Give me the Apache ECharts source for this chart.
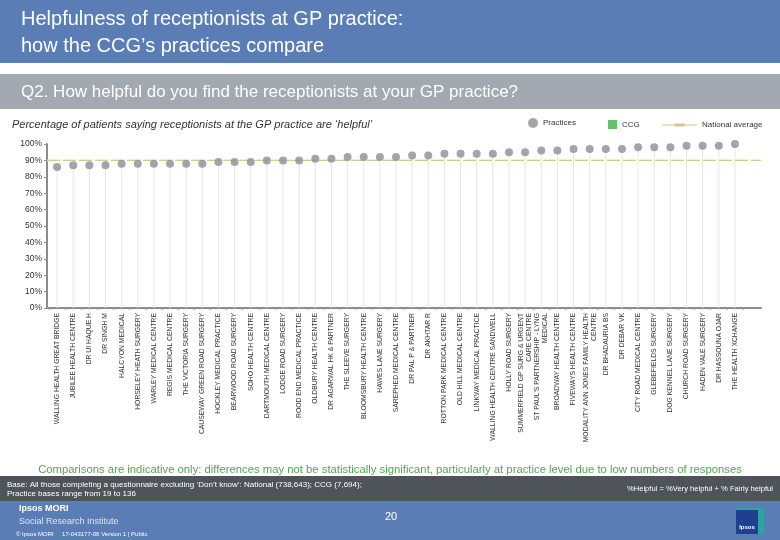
<!DOCTYPE html>
<html>
<head>
<meta charset="utf-8">
<script src="https://cdn.jsdelivr.net/npm/echarts@6/dist/echarts.min.js"></script>
<style>
html,body{margin:0;padding:0;background:#fff;}
#chart{width:780px;height:540px;}
</style>
</head>
<body>
<div id="chart"></div>
<script>
const CATEGORIES = [
  "WALLING HEALTH GREAT BRIDGE","JUBILEE HEALTH CENTRE","DR UI HAQUE H","DR SINGH M","HALCYON MEDICAL",
  "HORSELEY HEATH SURGERY","WARLEY MEDICAL CENTRE","REGIS MEDICAL CENTRE","THE VICTORIA SURGERY","CAUSEWAY GREEN ROAD SURGERY",
  "HOCKLEY MEDICAL PRACTICE","BEARWOOD ROAD SURGERY","SOHO HEALTH CENTRE","DARTMOUTH MEDICAL CENTRE","LODGE ROAD SURGERY",
  "ROOD END MEDICAL PRACTICE","OLDBURY HEALTH CENTRE","DR AGARWAL HK & PARTNER","THE SLEEVE SURGERY","BLOOMSBURY HEALTH CENTRE",
  "HAWES LANE SURGERY","SAREPHED MEDICAL CENTRE","DR PAL P & PARTNER","DR AKHTAR R","ROTTON PARK MEDICAL CENTRE",
  "OLD HILL MEDICAL CENTRE","LINKWAY MEDICAL PRACTICE","WALLING HEALTH CENTRE SANDWELL","HOLLY ROAD SURGERY","SUMMERFIELD GP SURG & URGENT\nCARE CENTRE",
  "ST PAUL'S PARTNERSHIP - LYNG\nMEDICAL","BROADWAY HEALTH CENTRE","FIVEWAYS HEALTH CENTRE","MODALITY ANN JONES FAMILY HEALTH\nCENTRE","DR BHADAURIA BS",
  "DR DEBAR VK","CITY ROAD MEDICAL CENTRE","GLEBEFIELDS SURGERY","DOG KENNEL LANE SURGERY","CHURCH ROAD SURGERY",
  "HADEN VALE SURGERY","DR HASSOUNA OJAR","THE HEALTH XCHANGE"
];
const PRACTICES = [
  86,87,87,87,88,88,88,88,88,88,
  89,89,89,90,90,90,91,91,92,92,
  92,92,93,93,94,94,94,94,95,95,
  96,96,97,97,97,97,98,98,98,99,
  99,99,100
];
const NATIONAL_AVERAGE = 90;
const CCG = [];
const NATIONAL_SPAN = [0, 1];

const FONT = "'Liberation Sans', Arial, sans-serif";
const chart = echarts.init(document.getElementById('chart'), null, {renderer:'canvas'});

const option = {
  animation: false,
  textStyle: {fontFamily: FONT},
  grid: [
    {left: 47, right: 19, top: 144, bottom: 232},
    {left: 49, right: 37, top: 144, bottom: 232}
  ],
  xAxis: [
    {gridIndex:0, type:'value', min:0, max:1,
     axisLine:{show:true, onZero:false, lineStyle:{color:'#8c8c8c', width:2}},
     axisTick:{show:false}, axisLabel:{show:false}, splitLine:{show:false}},
    {gridIndex:1, type:'category', data: CATEGORIES,
     axisLine:{show:false},
     axisTick:{show:true, length:2, lineStyle:{color:'#a0a0a0'}},
     axisLabel:{interval:0, rotate:90, fontSize:6.8, color:'#333', margin:5, fontFamily: FONT, lineHeight:8}}
  ],
  yAxis: [
    {gridIndex:0, type:'value', min:0, max:100, interval:10,
     axisLine:{show:true, lineStyle:{color:'#8c8c8c', width:2}},
     axisTick:{show:true, length:3, lineStyle:{color:'#8c8c8c'}},
     axisLabel:{formatter:'{value}%', fontSize:8.5, color:'#333', margin:5, fontFamily: FONT},
     splitLine:{show:false}},
    {gridIndex:1, type:'value', min:0, max:100, show:false, splitLine:{show:false}}
  ],
  legend: [
    {data:[{name:'Practices', icon:'circle'}], left:523, top:113, itemWidth:10, itemHeight:10, itemGap:0,
     textStyle:{fontSize:8, color:'#333', fontFamily: FONT}, selectedMode:false},
    {data:[{name:'CCG', icon:'rect'}], left:603, top:115, itemWidth:9, itemHeight:9,
     textStyle:{fontSize:8, color:'#333', fontFamily: FONT}, selectedMode:false},
    {data:[{name:'National average', icon:'path://M0,4 L34,4 L34,5 L0,5 Z M12,3 L22,3 L22,6 L12,6 Z'}], left:657, top:116, itemWidth:35, itemHeight:5,
     textStyle:{fontSize:8, color:'#333', fontFamily: FONT}, selectedMode:false}
  ],
  series: [
    {type:'bar', name:'drop', xAxisIndex:1, yAxisIndex:1, data: PRACTICES, barWidth:1,
     itemStyle:{color:'#e6e6e6'}, silent:true, z:1},
    {type:'line', name:'National average', xAxisIndex:0, yAxisIndex:0,
     data: NATIONAL_SPAN.map(x => [x, NATIONAL_AVERAGE]), symbol:'none',
     itemStyle:{color:'#d2c98f'},
     lineStyle:{color:'#d4cb90', width:1.2, type:[13,3], shadowColor:'rgba(248,243,205,0.9)', shadowBlur:2},
     silent:true, z:2},
    {type:'scatter', name:'Practices', xAxisIndex:1, yAxisIndex:1, data: PRACTICES, symbolSize:8,
     itemStyle:{color:'#8b8e93'}, z:3},
    {type:'scatter', name:'CCG', xAxisIndex:1, yAxisIndex:1, data: CCG, symbol:'rect',
     itemStyle:{color:'#3db34a'}, z:4}
  ],
  graphic: [
    {type:'rect', shape:{x:0, y:0, width:780, height:63}, style:{fill:'#5a7db6'}, silent:true},
    {type:'text', left:21, top:6, style:{text:"Helpfulness of receptionists at GP practice:\nhow the CCG’s practices compare",
      fill:'#fff', font:"20px 'Liberation Sans', Arial, sans-serif", lineHeight:27}},
    {type:'rect', shape:{x:0, y:74, width:780, height:35}, style:{fill:'#a3a9b1'}, silent:true},
    {type:'text', x:21, y:92, style:{text:"Q2. How helpful do you find the receptionists at your GP practice?",
      fill:'#fff', font:"17px 'Liberation Sans', Arial, sans-serif", verticalAlign:'middle'}},
    {type:'text', x:12, y:125, style:{text:"Percentage of patients saying receptionists at the GP practice are ‘helpful’",
      fill:'#333', font:"italic 11px 'Liberation Sans', Arial, sans-serif", verticalAlign:'middle'}},
    {type:'text', x:390, y:470, style:{text:"Comparisons are indicative only: differences may not be statistically significant, particularly at practice level due to low numbers of responses",
      fill:'#52a652', font:"11.3px 'Liberation Sans', Arial, sans-serif", align:'center', verticalAlign:'middle'}},
    {type:'rect', shape:{x:0, y:476, width:780, height:25}, style:{fill:'#4f545a'}, silent:true},
    {type:'text', x:7, y:480, style:{text:"Base: All those completing a questionnaire excluding ‘Don’t know’: National (738,643); CCG (7,694);\nPractice bases range from 19 to 136",
      fill:'#fff', font:"8px 'Liberation Sans', Arial, sans-serif", lineHeight:9}},
    {type:'text', x:773, y:489, style:{text:"%Helpful = %Very helpful + % Fairly helpful",
      fill:'#fff', font:"7.6px 'Liberation Sans', Arial, sans-serif", align:'right', verticalAlign:'middle'}},
    {type:'rect', shape:{x:0, y:501, width:780, height:39}, style:{fill:'#5a7db6'}, silent:true},
    {type:'text', x:19, y:509, style:{text:"Ipsos MORI", fill:'#fff', font:"bold 9px 'Liberation Sans', Arial, sans-serif", verticalAlign:'middle'}},
    {type:'text', x:19, y:522, style:{text:"Social Research Institute", fill:'#dbe4f2', font:"9px 'Liberation Sans', Arial, sans-serif", verticalAlign:'middle'}},
    {type:'text', x:16, y:534, style:{text:"© Ipsos MORI     17-043177-06 Version 1 | Public", fill:'#fff', font:"6px 'Liberation Sans', Arial, sans-serif", verticalAlign:'middle'}},
    {type:'text', x:391, y:517, style:{text:"20", fill:'#fff', font:"11px 'Liberation Sans', Arial, sans-serif", align:'center', verticalAlign:'middle'}},
    {type:'rect', shape:{x:736, y:508, width:28, height:26}, style:{fill:'#2aa6a0'}, silent:true},
    {type:'rect', shape:{x:736, y:510, width:22, height:24}, style:{fill:'#1f3f8f'}, silent:true},
    {type:'text', x:747, y:527, style:{text:"Ipsos", fill:'#fff', font:"bold 6px 'Liberation Sans', Arial, sans-serif", align:'center', verticalAlign:'middle'}}
  ]
};
chart.setOption(option);
</script>
</body>
</html>
